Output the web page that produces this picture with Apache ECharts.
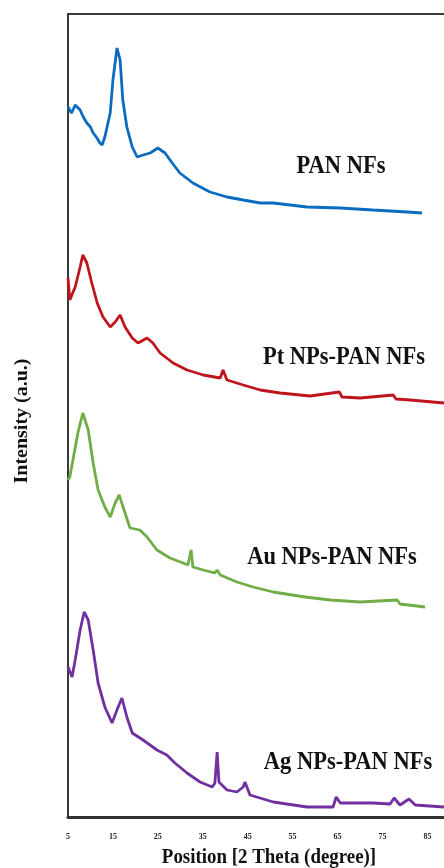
<!DOCTYPE html>
<html>
<head>
<meta charset="utf-8">
<script src="https://cdn.jsdelivr.net/npm/echarts@6/dist/echarts.min.js"></script>
<style>
html,body{margin:0;padding:0;background:#fff;}
#c{width:444px;height:868px;}
</style>
</head>
<body>
<div id="c"></div>
<script>
// 2-theta (degree) vs stacked intensity (a.u., offset included)
const xTicks = [5, 15, 25, 35, 45, 55, 65, 75, 85];
const seriesNames = ['PAN NFs', 'Pt NPs-PAN NFs', 'Au NPs-PAN NFs', 'Ag NPs-PAN NFs'];
const seriesColors = ['#0a6cc0', '#c0141c', '#70ad47', '#7030a0'];

const panNFs = [[5.0,710],[5.8,704],[6.6,712],[7.0,714],[7.7,707],[8.4,700],[9.2,694],[10.0,690],[10.6,684],[11.3,680],[12.1,674],[12.6,672],[13.2,680],[14.4,704],[15.0,737],[15.9,769],[16.6,757],[17.2,717],[18.1,690],[19.3,670],[20.4,660],[21.7,662],[23.3,664],[25.0,669],[26.6,664],[28.2,654],[29.9,644],[32.8,634],[36.6,625],[40.4,620],[44.0,617],[47.8,614],[50.7,614],[58.2,610],[65.6,609],[72.9,607],[80.5,605],[83.8,604]];

const ptNFs = [[5.0,539],[5.4,517],[6.6,530],[7.7,550],[8.3,562],[9.2,554],[10.3,534],[11.5,514],[12.8,500],[14.4,490],[15.5,495],[16.6,502],[17.7,490],[19.3,479],[20.6,474],[22.6,479],[23.9,474],[25.5,464],[28.4,454],[31.5,447],[35.1,442],[38.9,439],[39.5,447],[40.4,437],[44.0,432],[47.8,427],[52.2,424],[58.9,421],[65.4,425],[66.0,420],[70.0,419],[77.4,422],[78.0,418],[81.2,417],[88.7,414]];

const auNFs = [[5.0,337],[5.4,340],[6.1,357],[7.2,384],[8.3,404],[9.5,387],[10.6,354],[11.7,327],[13.2,310],[14.4,300],[15.5,314],[16.4,322],[17.7,304],[18.8,289],[21.0,287],[22.6,280],[24.8,267],[27.7,259],[30.6,254],[31.7,252],[32.4,267],[32.8,250],[35.1,247],[37.7,244],[38.2,247],[38.9,242],[42.6,235],[46.2,230],[50.7,225],[57.8,220],[63.4,217],[70.0,215],[78.3,217],[78.9,213],[84.5,210]];

const agNFs = [[5.0,150],[5.9,140],[6.6,157],[7.7,187],[8.6,205],[9.5,197],[10.6,167],[11.7,134],[13.2,110],[14.8,94],[15.9,107],[17.0,119],[18.1,100],[19.3,84],[21.7,77],[24.8,67],[27.0,62],[28.8,54],[31.5,44],[34.4,35],[37.1,30],[37.7,34],[38.2,65],[38.6,35],[40.4,27],[42.6,25],[44.0,30],[44.4,35],[45.5,22],[50.7,15],[58.2,10],[64.0,10],[64.7,20],[65.6,14],[72.9,14],[76.7,13],[77.6,19],[78.9,12],[80.9,18],[82.3,12],[88.7,10]];

const allData = [panNFs, ptNFs, auNFs, agNFs];
const serif = "'Liberation Serif','Times New Roman',serif";

const chart = echarts.init(document.getElementById('c'), null, {renderer: 'canvas'});

function label(text, x, y, size) {
  return {
    type: 'text', x: x, y: y, scaleX: 0.9, z: 100,
    style: {text: text, fill: '#111', font: 'bold ' + size + 'px ' + serif, align: 'center', verticalAlign: 'middle'}
  };
}

const hiddenAxisParts = {axisTick: {show: false}, splitLine: {show: false}, axisLabel: {show: false}};

chart.setOption({
  animation: false,
  backgroundColor: '#fff',
  grid: {left: 68, right: 0, top: 14, bottom: 51, show: false},
  xAxis: [{
    type: 'value', min: 5, max: 88.7, interval: 10, position: 'bottom',
    axisLine: {show: true, lineStyle: {color: '#333', width: 3}},
    axisTick: {show: false},
    splitLine: {show: false},
    axisLabel: {
      fontSize: 8, fontWeight: 'bold', fontFamily: serif, color: '#222', margin: 16,
      showMaxLabel: false,
      formatter: v => xTicks.includes(v) ? String(v) : ''
    }
  }, Object.assign({
    type: 'value', min: 5, max: 88.7, position: 'top',
    axisLine: {show: true, lineStyle: {color: '#3a3a3a', width: 2}}
  }, hiddenAxisParts)],
  yAxis: Object.assign({
    type: 'value', min: 0, max: 803, position: 'left',
    axisLine: {show: true, lineStyle: {color: '#3a3a3a', width: 2}}
  }, hiddenAxisParts),
  series: allData.map((d, i) => ({
    name: seriesNames[i], type: 'line', data: d, showSymbol: false, smooth: false,
    lineStyle: {color: seriesColors[i], width: 2.8}, z: 3
  })),
  graphic: [
    label(seriesNames[0], 341, 167, 25),
    label(seriesNames[1], 344, 358, 25),
    label(seriesNames[2], 332, 558, 25),
    label(seriesNames[3], 348, 763, 25),
    label('Position [2 Theta (degree)]', 269, 858, 21),
    {
      type: 'text', x: 22, y: 421, rotation: Math.PI / 2, scaleY: 0.9, z: 100,
      style: {text: 'Intensity (a.u.)', fill: '#111', font: 'bold 20px ' + serif, align: 'center', verticalAlign: 'middle'}
    }
  ]
});
</script>
</body>
</html>
